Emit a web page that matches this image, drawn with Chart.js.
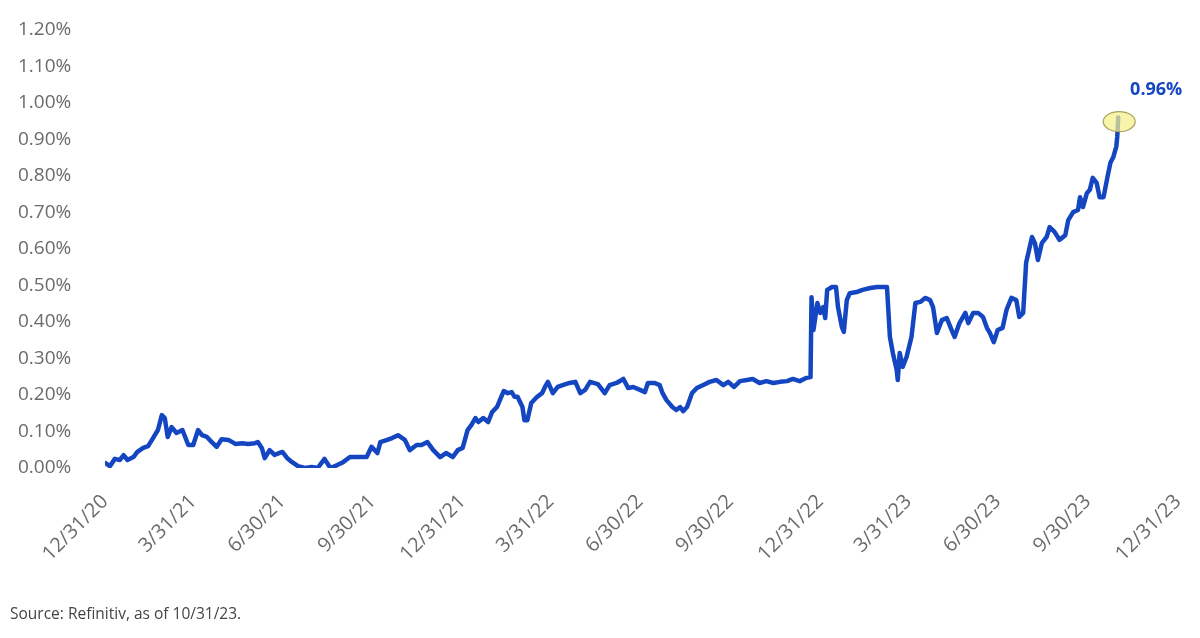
<!DOCTYPE html>
<html>
<head>
    <title>Yield since 12/31/20</title>
    <meta charset="UTF-8">
    <script src="https://cdn.jsdelivr.net/npm/chart.js@4.4.0/dist/chart.umd.min.js"></script>
    <style>
        html, body { margin: 0; padding: 0; background: #fff; }
        #wrap { position: relative; width: 1200px; height: 638px; }
        #source {
            position: absolute; left: 10px; top: 602px;
            font-family: "Open Sans", sans-serif; font-size: 15.5px; color: #444;
        }
    </style>
</head>
<body>
<div id="wrap">
    <canvas id="myChart" width="1200" height="638"></canvas>
    <div id="source">Source: Refinitiv, as of 10/31/23.</div>
</div>

<script>
    // days since 12/31/20, yield in %
    var days = [
        0, 5, 10, 15, 19, 23, 29, 33, 39, 44, 49, 54, 58, 61, 64, 68, 73, 79, 85, 90,
        95, 99, 104, 109, 114, 119, 126, 133, 140, 146, 153, 156, 160, 163, 168, 173, 181, 186, 191, 197,
        204, 211, 217, 224, 230, 237, 243, 250, 258, 267, 272, 278, 281, 288, 293, 299, 306, 311, 318, 323,
        329, 335, 342, 348, 355, 360, 365, 370, 374, 378, 381, 386, 391, 395, 400, 403, 407, 411, 415, 418,
        421, 426, 428, 431, 435, 441, 446, 449, 452, 457, 462, 467, 474, 480, 485, 490, 495, 503, 510, 515,
        522, 529, 534, 539, 546, 551, 554, 561, 566, 569, 573, 579, 583, 587, 590, 594, 599, 604, 610, 617,
        624, 631, 636, 642, 648, 655, 661, 668, 675, 682, 689, 696, 702, 709, 716, 720, 721, 723, 727, 730,
        733, 735, 737, 742, 746, 748, 752, 754, 757, 760, 767, 773, 781, 788, 794, 798, 801, 804, 808, 809,
        811, 814, 818, 823, 827, 832, 837, 842, 845, 849, 854, 859, 864, 867, 872, 878, 881, 886, 891, 896,
        900, 903, 907, 911, 916, 920, 925, 930, 933, 937, 940, 943, 946, 949, 952, 956, 961, 964, 969, 974,
        980, 983, 988, 993, 995, 998, 1002, 1005, 1008, 1012, 1015, 1019, 1023, 1026, 1029, 1031, 1032, 1033, 1034
    ];
    var yields = [
        0.014, 0.005, 0.025, 0.022, 0.035, 0.022, 0.030, 0.044, 0.055, 0.060, 0.082, 0.104, 0.145, 0.137, 0.085, 0.112, 0.096, 0.104, 0.063, 0.063,
        0.104, 0.090, 0.085, 0.071, 0.058, 0.079, 0.077, 0.066, 0.068, 0.066, 0.068, 0.071, 0.055, 0.027, 0.049, 0.036, 0.044, 0.027, 0.016, 0.005,
        0.000, 0.003, 0.000, 0.025, 0.000, 0.008, 0.016, 0.030, 0.030, 0.030, 0.058, 0.041, 0.071, 0.077, 0.082, 0.090, 0.077, 0.049, 0.063, 0.063,
        0.071, 0.049, 0.030, 0.041, 0.030, 0.049, 0.055, 0.104, 0.118, 0.137, 0.126, 0.137, 0.126, 0.153, 0.167, 0.186, 0.211, 0.205, 0.208, 0.195,
        0.195, 0.167, 0.131, 0.131, 0.178, 0.195, 0.205, 0.222, 0.236, 0.205, 0.222, 0.227, 0.233, 0.236, 0.205, 0.214, 0.236, 0.230, 0.205, 0.227,
        0.233, 0.244, 0.219, 0.222, 0.214, 0.208, 0.233, 0.233, 0.227, 0.205, 0.186, 0.167, 0.159, 0.167, 0.156, 0.167, 0.205, 0.219, 0.227, 0.236,
        0.241, 0.227, 0.236, 0.222, 0.238, 0.241, 0.244, 0.233, 0.238, 0.233, 0.236, 0.238, 0.244, 0.238, 0.247, 0.249, 0.468, 0.378, 0.452, 0.425,
        0.441, 0.411, 0.488, 0.496, 0.496, 0.441, 0.386, 0.373, 0.460, 0.479, 0.482, 0.488, 0.493, 0.496, 0.496, 0.496, 0.359, 0.315, 0.268, 0.241,
        0.315, 0.277, 0.304, 0.359, 0.452, 0.455, 0.466, 0.460, 0.441, 0.370, 0.405, 0.411, 0.378, 0.359, 0.397, 0.425, 0.397, 0.425, 0.425, 0.414,
        0.384, 0.370, 0.345, 0.378, 0.384, 0.433, 0.466, 0.460, 0.414, 0.425, 0.562, 0.597, 0.633, 0.616, 0.570, 0.616, 0.633, 0.660, 0.647, 0.625,
        0.638, 0.679, 0.701, 0.707, 0.742, 0.715, 0.753, 0.762, 0.795, 0.781, 0.742, 0.742, 0.797, 0.836, 0.852, 0.871, 0.880, 0.907, 0.960
    ];

    var tickDays = [0, 90, 181, 273, 365, 455, 546, 638, 730, 820, 911, 1003, 1095];
    var tickLabels = ['12/31/20', '3/31/21', '6/30/21', '9/30/21', '12/31/21', '3/31/22', '6/30/22',
                      '9/30/22', '12/31/22', '3/31/23', '6/30/23', '9/30/23', '12/31/23'];
    var lastLabel = '0.96%';

    var blue = '#1546c1';

    var points = days.map(function (d, i) { return { x: d, y: yields[i] }; });

    // yellow highlight + value label at the last point
    var lastPoint = {
        id: 'lastPoint',
        afterDatasetsDraw: function (chart) {
            var ctx = chart.ctx;
            var px = chart.scales.x.getPixelForValue(days[days.length - 1]);
            var py = chart.scales.y.getPixelForValue(yields[yields.length - 1]);
            ctx.save();
            ctx.beginPath();
            ctx.ellipse(px + 1, py + 4, 16, 10, 0, 0, Math.PI * 2);
            ctx.fillStyle = 'rgba(245, 240, 140, 0.72)';
            ctx.fill();
            ctx.lineWidth = 1.2;
            ctx.strokeStyle = '#a9a25a';
            ctx.stroke();
            ctx.font = 'bold 18px "Open Sans", sans-serif';
            ctx.fillStyle = blue;
            ctx.textAlign = 'center';
            ctx.textBaseline = 'middle';
            ctx.fillText(lastLabel, px + 38, py - 28);
            ctx.restore();
        }
    };

    var ctx = document.getElementById('myChart');
    var myChart = new Chart(ctx, {
        type: 'line',
        data: {
            datasets: [{
                label: 'Yield',
                data: points,
                borderColor: blue,
                borderWidth: 4.5,
                borderJoinStyle: 'round',
                borderCapStyle: 'round',
                pointRadius: 0,
                tension: 0
            }]
        },
        options: {
            responsive: false,
            animation: false,
            layout: { padding: { left: 18, top: 30, right: 22, bottom: 0 } },
            plugins: {
                legend: { display: false },
                tooltip: { enabled: false }
            },
            scales: {
                x: {
                    type: 'linear',
                    min: 0,
                    max: 1095,
                    grid: { display: false },
                    border: { display: false },
                    afterBuildTicks: function (scale) {
                        scale.ticks = tickDays.map(function (v) { return { value: v }; });
                    },
                    afterFit: function (scale) {
                        scale.height = 170;
                        scale.paddingLeft = 0;
                        scale.paddingRight = 0;
                    },
                    ticks: {
                        autoSkip: false,
                        minRotation: 45,
                        maxRotation: 45,
                        padding: 14,
                        color: '#6b6b6b',
                        font: { family: '"Open Sans", sans-serif', size: 20 },
                        callback: function (v) {
                            var i = tickDays.indexOf(v);
                            return i >= 0 ? tickLabels[i] : '';
                        }
                    }
                },
                y: {
                    min: 0,
                    max: 1.2,
                    grid: { display: false },
                    border: { display: false },
                    afterFit: function (scale) {
                        scale.width = 87;
                        scale.paddingTop = 0;
                        scale.paddingBottom = 0;
                    },
                    ticks: {
                        stepSize: 0.1,
                        crossAlign: 'far',
                        color: '#6b6b6b',
                        font: { family: '"Open Sans", sans-serif', size: 19 },
                        callback: function (v) { return v.toFixed(2) + '%'; }
                    }
                }
            }
        },
        plugins: [lastPoint]
    });
</script>
</body>
</html>
